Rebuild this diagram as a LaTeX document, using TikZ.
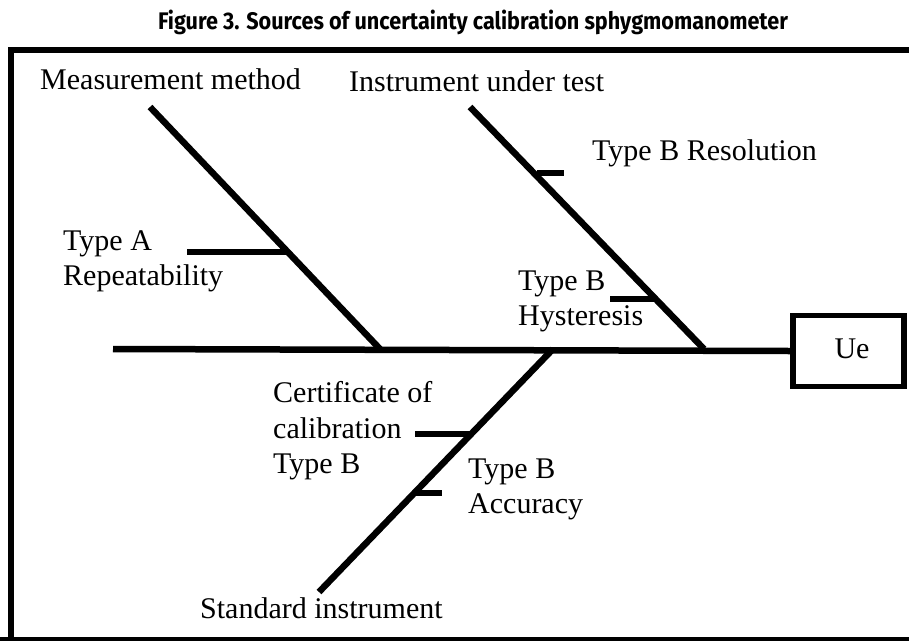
\documentclass[tikz,border=0pt]{standalone}
\usepackage{fontspec}
\setmainfont{Liberation Serif}
\newfontfamily\titlefont{Fira Sans}
\usetikzlibrary{positioning}
\usetikzlibrary{calc}

\tikzset{
  bone/.style={line width=6.5pt},
  twig/.style={line width=6pt},
  lbl/.style={font=\fontsize{30}{35}\selectfont,inner sep=0pt,anchor=base west},
}

\begin{document}
\begin{tikzpicture}[x=1pt,y=-1pt]
\useasboundingbox (0,0) rectangle (909,640);

% title and frame
\node[anchor=base,inner sep=0pt](title) at (473,29){\resizebox{630pt}{\height}{\titlefont\bfseries\fontsize{24}{24}\selectfont Figure 3. Sources of uncertainty calibration sphygmomanometer}};
\draw[line width=6pt](11,640)--(11,50)--(915,50);
\draw[line width=5pt](0,639)--(915,639);

% effect box
\node[draw,line width=5.5pt,minimum width=111pt,minimum height=71pt,inner sep=0pt](Ue) at (848.5,351){};
\node[lbl,anchor=base](UeT) at (852,358){Ue};

% spine and bones
\coordinate(tail) at (113,349);
\coordinate(mA) at (150,107);
\coordinate(mB) at (380,349);
\coordinate(iA) at (470,107);
\coordinate(iB) at (704,349);
\coordinate(sA) at (553,349);
\coordinate(sB) at (319,592);

\draw[bone](tail)--(Ue.west);
\draw[bone](mA)--(mB);
\draw[bone](iA)--(iB);
\draw[bone](sA)--(sB);

% twigs
\coordinate(repA) at (187,252);
\coordinate(repB) at (288,252);
\coordinate(resA) at (537,173);
\coordinate(resB) at (564,173);
\coordinate(hysA) at (610,299);
\coordinate(hysB) at (657,299);
\coordinate(cerA) at (415,434);
\coordinate(cerB) at (470,434);
\coordinate(accA) at (413,493);
\coordinate(accB) at (442,493);

\path
(repA) edge[twig]node{} (repB)
(resA) edge[twig]node{} (resB)
(hysA) edge[twig]node{} (hysB)
(cerA) edge[twig]node{} (cerB)
(accA) edge[twig]node{} (accB);

% labels
\node[lbl](meas) at (40,89){Measurement method};
\node[lbl](inst) at (349,91){Instrument under test};
\node[lbl](res) at (592,160){Type B Resolution};
\node[lbl](typeA) at (63,250){Type A};
\node[lbl](rep) at (63,285){Repeatability};
\node[lbl](typeH) at (518,290){Type B};
\node[lbl](hys) at (518,325){Hysteresis};
\node[lbl](cer1) at (273,402){Certificate of};
\node[lbl](cer2) at (273,438){calibration};
\node[lbl](cer3) at (273,473){Type B};
\node[lbl](typeAc) at (468,478){Type B};
\node[lbl](acc) at (468,513){Accuracy};
\node[lbl](std) at (200,618){Standard instrument};
\end{tikzpicture}
\end{document}
